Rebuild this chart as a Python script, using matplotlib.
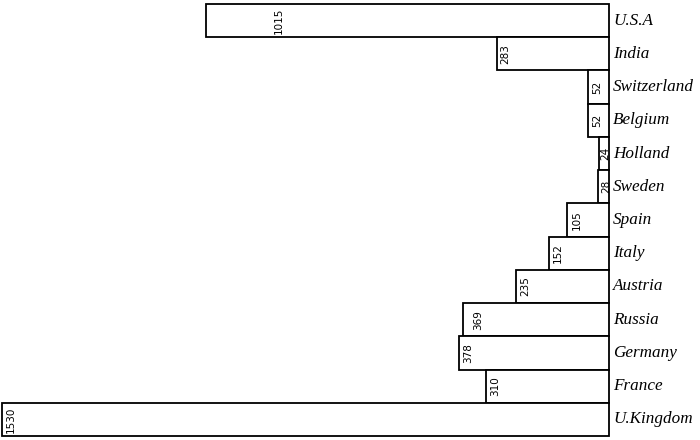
import matplotlib
matplotlib.use("Agg")
import matplotlib.pyplot as plt

countries = ["U.S.A", "India", "Switzerland", "Belgium", "Holland", "Sweden",
             "Spain", "Italy", "Austria", "Russia", "Germany", "France", "U.Kingdom"]
values = [1015, 283, 52, 52, 24, 28, 105, 152, 235, 369, 378, 310, 1530]
value_labels = ["1015", "283", "52", "52", "24", "28", "105", "152", "235",
                "369", "378", "310", "1530"]

fig = plt.figure(figsize=(7, 4.4), dpi=100)
ax = fig.add_axes([0.0, 0.009, 609 / 700, 0.982])

n = len(countries)
ypos = list(range(n - 1, -1, -1))
ax.barh(ypos, [-v for v in values], left=0, height=1.0, color="white",
        edgecolor="black", linewidth=1.3, clip_on=False)

# pixel shift of the value label from the bar's left end (layout only)
shift = {"U.S.A": 68, "Russia": 11, "Holland": 1, "Sweden": 3}
for y, c, v, lab in zip(ypos, countries, values, value_labels):
    off = shift.get(c, 4)
    ax.annotate(lab, xy=(-v, y), xytext=(off, 0), textcoords="offset pixels",
                rotation=90, ha="left", va="center", fontsize=7.5,
                family="DejaVu Sans", color="black")

for y, c in zip(ypos, countries):
    ax.annotate(c, xy=(0, y), xytext=(4, 0), textcoords="offset pixels",
                ha="left", va="center", fontsize=12.3, style="italic",
                family="Liberation Serif", color="black", annotation_clip=False)

ax.set_xlim(-1535, 0)
ax.set_ylim(-0.5, n - 0.5)
ax.axis("off")

fig.savefig("out.png", dpi=100, facecolor="white")
